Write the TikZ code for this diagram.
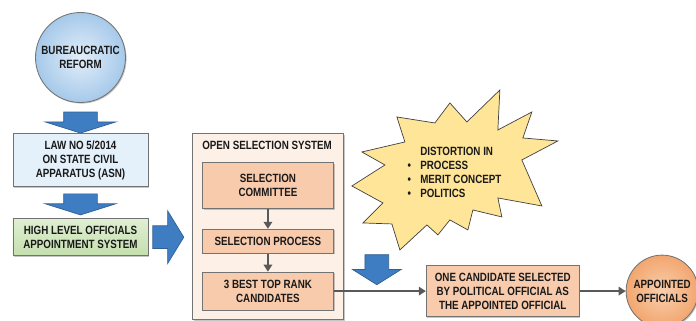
\documentclass[tikz,border=0pt]{standalone}
\usepackage{fontspec}
\setmainfont{Liberation Sans}[FakeStretch=0.82]
\usepackage{tikz}
\usetikzlibrary{
  arrows.meta,
  positioning,
  calc,
  shapes.arrows,
  shadows
}
\definecolor{refin}{HTML}{E2EEF9}
\definecolor{refout}{HTML}{A6C9EA}
\definecolor{lawblue}{HTML}{E4F0FA}
\definecolor{hlotop}{HTML}{E0EFD3}
\definecolor{hlobot}{HTML}{C4DFAD}
\definecolor{ossbg}{HTML}{FDF0E6}
\definecolor{peach}{HTML}{F8CBAD}
\definecolor{apin}{HTML}{F9CFAE}
\definecolor{apout}{HTML}{F2A66F}
\definecolor{burstyellow}{HTML}{FFE597}
\definecolor{arrowlight}{HTML}{7DB3E3}
\definecolor{arrowdark}{HTML}{3F7DC2}
\definecolor{arrowedge}{HTML}{2F5F93}
\definecolor{linegray}{HTML}{595959}

\begin{document}
\begin{tikzpicture}[
    every node/.style={font=\bfseries\fontsize{8.5}{10}\selectfont,text=black!90},
    card/.style={
    draw=black!55,
    line width=0.6pt,
    align=center,
    inner sep=0pt,
    drop shadow={shadow xshift=0.8pt,shadow yshift=-0.8pt,opacity=0.45}
    },
    disc/.style={
    card,
    circle
    },
    blockarrow/.style={
    single arrow,
    draw=arrowedge,
    line width=0.5pt,
    top color=arrowdark,
    middle color=arrowlight,
    bottom color=arrowdark,
    inner xsep=0pt,
    minimum width=1pt
    },
    burst/.style={draw=black!75,line width=0.5pt,fill=burstyellow,line join=miter},
    link/.style={-{Triangle[length=5pt,width=6pt]},draw=linegray,line width=1.3pt}
    ]
    \useasboundingbox (0,0) rectangle (17.4,-8.025);

    \node[disc,inner color=refin,outer color=refout,minimum size=2.25cm]
    (ref) at (2.0125,-1.4375) {BUREAUCRATIC\\REFORM};

    \node[card,fill=lawblue,minimum width=3.375cm,minimum height=1.325cm,below=0.7625cm of ref]
    (law) {LAW NO 5/2014\\ON STATE CIVIL\\APPARATUS (ASN)};

    \node[card,top color=hlotop,bottom color=hlobot,minimum width=3.375cm,minimum height=0.925cm,below=0.775cm of law]
    (hlo) {HIGH LEVEL OFFICIALS\\APPOINTMENT SYSTEM};

    \node[card,fill=ossbg,minimum width=3.775cm,minimum height=4.65cm,anchor=north west]
    (oss) at (4.8,-3.325) {};

    \node[inner sep=0pt,below right=0.19cm and 0.25cm of oss.north west]
    (osst) {OPEN SELECTION SYSTEM};

    \node[card,fill=peach,minimum width=3.275cm,minimum height=1.15cm,below=0.725cm of oss.north]
    (sc) {SELECTION\\COMMITTEE};

    \node[card,fill=peach,minimum width=3.275cm,minimum height=0.6cm,below=0.5cm of sc]
    (sp) {SELECTION PROCESS};

    \node[card,fill=peach,minimum width=3.275cm,minimum height=0.95cm,below=0.45cm of sp]
    (best) {3 BEST TOP RANK\\CANDIDATES};

    \node[card,fill=peach,minimum width=3.825cm,minimum height=1.275cm,right=2.3cm of best]
    (one) {ONE CANDIDATE SELECTED\\BY POLITICAL OFFICIAL AS\\THE APPOINTED OFFICIAL};

    \node[disc,inner color=apin,outer color=apout,minimum size=1.8cm,right=1.15cm of one]
    (ao) {APPOINTED\\OFFICIALS};

    \begin{scope}[x=0.025cm,y=-0.025cm]
    \draw[burst] (500,90) -- (498,130) -- (532,112) -- (523,138) -- (558,141)
      -- (522,160) -- (542,206) -- (498,198) -- (502,217) -- (473,210)
      -- (468,230) -- (450,220) -- (438,235) -- (427,225) -- (400,250)
      -- (392,224) -- (363,223) -- (383,203) -- (352,186) -- (385,165)
      -- (362,152) -- (405,142) -- (397,117) -- (435,123) -- (450,103)
      -- (467,122) -- cycle;
    \end{scope}

    \node[anchor=north west,inner sep=0pt,align=left]
    (dist) at (10.5,-3.67) {DISTORTION IN\\
    \llap{\textbullet\hspace{6.5pt}}PROCESS\\
    \llap{\textbullet\hspace{6.5pt}}MERIT CONCEPT\\
    \llap{\textbullet\hspace{6.5pt}}POLITICS};

    \node[blockarrow,rotate=-90,anchor=tip,inner ysep=0.4125cm,single arrow head extend=0.4625cm,
    single arrow tip angle=145,minimum height=0.525cm]
    (a1) at (law.north) {};

    \node[blockarrow,rotate=-90,anchor=tip,inner ysep=0.4125cm,single arrow head extend=0.4625cm,
    single arrow tip angle=145,minimum height=0.525cm]
    (a2) at ($(hlo.north)+(0,0.075)$) {};

    \node[blockarrow,anchor=tail,inner ysep=0.275cm,single arrow head extend=0.375cm,
    single arrow tip angle=117,minimum height=0.775cm]
    (a3) at ($(hlo.east)+(0.1,0)$) {};

    \node[blockarrow,rotate=-90,anchor=tip,inner ysep=0.2875cm,single arrow head extend=0.3125cm,
    single arrow tip angle=116,minimum height=0.75cm]
    (a4) at ($(best.east)!0.5!(one.west)+(-0.075,0.15)$) {};

    \draw[link](sc)--(sp);
    \draw[link](sp)--(best);
    \draw[link](best)--(one);
    \draw[link](one)--(ao);

    \end{tikzpicture}
\end{document}
